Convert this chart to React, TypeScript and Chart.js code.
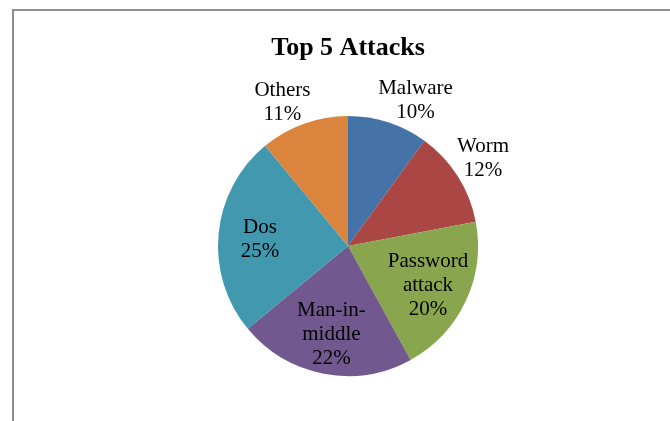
import React, { useEffect, useRef } from "react";
import { Chart, registerables } from "chart.js";

Chart.register(...registerables);

const TITLE = "Top 5 Attacks";
const categories = ["Malware", "Worm", "Password attack", "Man-in-middle", "Dos", "Others"];
const labelLines = [["Malware"], ["Worm"], ["Password", "attack"], ["Man-in-", "middle"], ["Dos"], ["Others"]];
const values = [10, 12, 20, 22, 25, 11];
const colors = ["#4572A7", "#AA4643", "#89A54E", "#71588F", "#4198AF", "#DB843D"];

const FONT = '"Liberation Serif", "Times New Roman", serif';
const LABEL_SIZE = 21;
const LINE_H = 24;

const decorPlugin = {
  id: "decor",
  beforeDraw(chart: any) {
    const ctx = chart.ctx;
    ctx.save();
    ctx.fillStyle = "#ffffff";
    ctx.fillRect(0, 0, chart.width, chart.height);
    ctx.fillStyle = "#8e8e8e";
    ctx.fillRect(12, 9, chart.width - 12, 2);
    ctx.fillRect(12, 9, 2, chart.height - 9);
    ctx.restore();
  },
  afterDatasetsDraw(chart: any) {
    const ctx = chart.ctx;
    const meta = chart.getDatasetMeta(0);
    const data = chart.data.datasets[0].data as number[];
    const total = data.reduce((a, b) => a + b, 0);
    ctx.save();
    // title
    ctx.fillStyle = "#000";
    ctx.textAlign = "center";
    ctx.textBaseline = "alphabetic";
    ctx.font = `bold 26px ${FONT}`;
    const cx0 = (chart.chartArea.left + chart.chartArea.right) / 2;
    ctx.fillText(TITLE, cx0, 55);

    ctx.font = `${LABEL_SIZE}px ${FONT}`;
    meta.data.forEach((arc: any, i: number) => {
      const pct = Math.round((data[i] / total) * 100);
      const lines = [...labelLines[i], `${pct}%`];
      const mid = (arc.startAngle + arc.endAngle) / 2;
      const dx = Math.cos(mid);
      const dy = Math.sin(mid);
      const r = arc.outerRadius;
      const w = Math.max(...lines.map((l) => ctx.measureText(l).width));
      const h = (lines.length - 1) * LINE_H + LABEL_SIZE * 0.7;
      let ax: number, ay: number;
      if (pct < 15) {
        const px = arc.x + dx * (r + 10);
        const py = arc.y + dy * (r + 10);
        ax = px + Math.sign(dx) * 0.65 * (w / 2);
        ay = py + Math.sign(dy) * 0.7 * (h / 2);
      } else {
        ax = arc.x + dx * r * 0.68;
        ay = arc.y + dy * r * 0.68;
      }
      const capH = LABEL_SIZE * 0.66;
      lines.forEach((line, j) => {
        const by = ay - ((lines.length - 1) * LINE_H) / 2 + j * LINE_H + capH / 2;
        ctx.fillText(line, ax, by);
      });
    });
    ctx.restore();
  },
};

export default function App() {
  const ref = useRef<HTMLCanvasElement>(null);
  useEffect(() => {
    if (!ref.current) return;
    const chart = new Chart(ref.current, {
      type: "pie",
      data: {
        labels: categories,
        datasets: [
          {
            data: values,
            backgroundColor: colors,
            borderWidth: 0,
          },
        ],
      },
      options: {
        responsive: false,
        animation: false,
        layout: { padding: { top: 116, bottom: 45, left: 100, right: 74 } },
        plugins: {
          legend: { display: false },
          title: { display: false },
          tooltip: { enabled: false },
        },
      },
      plugins: [decorPlugin],
    });
    return () => chart.destroy();
  }, []);
  return (
    <div style={{ position: "fixed", left: 0, top: 0, width: 670, height: 421, background: "#fff" }}>
      <canvas ref={ref} width={670} height={421} style={{ display: "block" }} />
    </div>
  );
}
